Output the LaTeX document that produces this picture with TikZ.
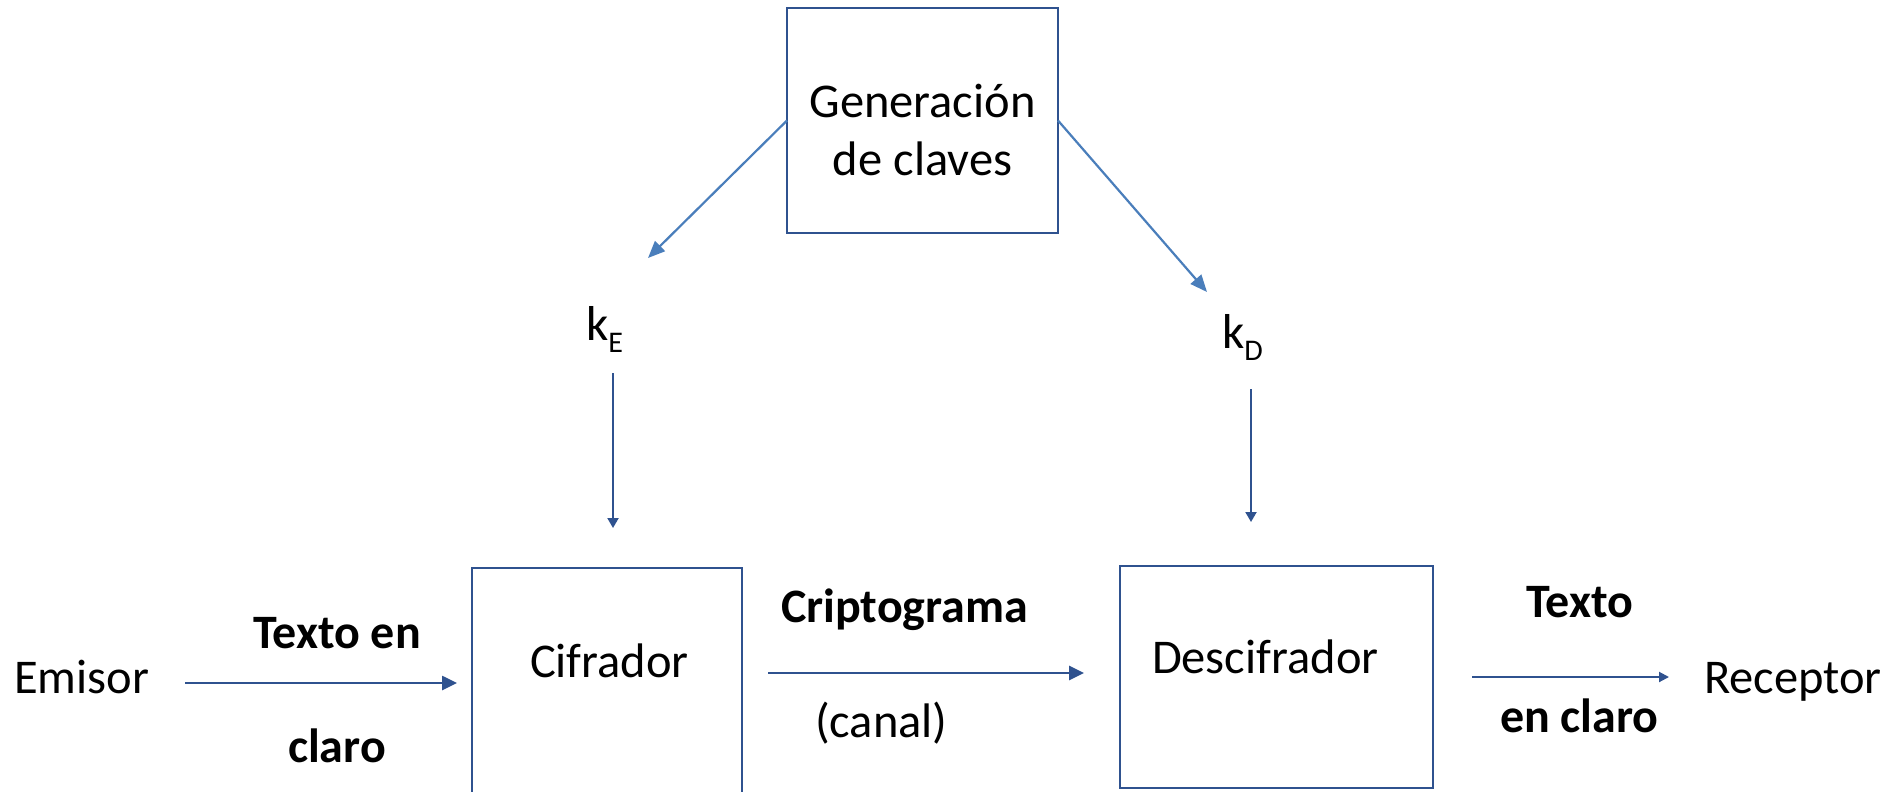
\documentclass[tikz,border=0pt]{standalone}
\usepackage{fontspec}
\setmainfont{Carlito}
\usetikzlibrary{arrows.meta}
\definecolor{boxblue}{HTML}{2F528F}
\definecolor{arrdark}{HTML}{2F528F}
\definecolor{arrlight}{HTML}{4A7EBB}
\begin{document}
\begin{tikzpicture}[x=1pt,y=-1pt,
  txt/.style={inner sep=0pt, outer sep=0pt, font=\fontsize{48.5}{58}\selectfont, anchor=base west},
  btxt/.style={txt, font=\fontsize{48}{58}\selectfont\bfseries},
  ktxt/.style={txt, font=\fontsize{49}{56}\selectfont},
  boxnode/.style={draw=boxblue, line width=2pt, inner sep=0pt, outer sep=0pt, anchor=north west},
  harrow/.style={draw=arrdark, line width=2.6pt, -{Triangle[length=15pt,width=14pt]}},
  sarrow/.style={draw=arrdark, line width=2pt, -{Triangle[length=10pt,width=10pt]}},
  varrow/.style={draw=arrdark, line width=2pt, -{Triangle[length=10pt,width=11pt]}},
  larrow/.style={draw=arrlight, line width=2.2pt, -{Triangle[length=17pt,width=14pt]}}
]
\clip (0,0) rectangle (1900,792);
\fill[white] (0,0) rectangle (1900,792);

% boxes
\node[boxnode, minimum width=271pt, minimum height=225pt] (gen) at (787,8) {};
\node[boxnode, minimum width=270pt, minimum height=260pt] (cif) at (472,568) {};
\node[boxnode, minimum width=313pt, minimum height=222pt] (des) at (1120,566) {};

% box texts
\node[txt, anchor=base] (gen1) at (922.5,117) {Generación};
\node[txt, anchor=base] (gen2) at (922.5,175) {de claves};
\node[txt] (ciftxt) at (530,677) {Cifrador};
\node[txt] (destxt) at (1152,673) {Descifrador};

% end points
\node[txt] (emisor) at (14,693) {Emisor};
\node[txt] (receptor) at (1704,693) {Receptor};

% keys
\node[ktxt] (kE) at (586,340) {k\raisebox{-12pt}{\fontsize{30}{30}\selectfont E}};
\node[ktxt] (kD) at (1222,348) {k\raisebox{-12pt}{\fontsize{30}{30}\selectfont D}};

% labels
\node[btxt] (t1a) at (253,648) {Texto en};
\node[btxt] (t1b) at (288,762) {claro};
\node[btxt] (crip) at (781,622) {Criptograma};
\node[txt] (canal) at (815,737) {(canal)};
\node[btxt] (t2a) at (1526,617) {Texto};
\node[btxt] (t2b) at (1500,732) {en claro};

% connector end points
\coordinate (e1) at (185,683);
\coordinate (e2) at (457,683);
\coordinate (c1) at (768,673);
\coordinate (c2) at (1084,673);
\coordinate (r1) at (1472,677);
\coordinate (r2) at (1669,677);
\coordinate (ke1) at (613,373);
\coordinate (ke2) at (613,528);
\coordinate (kd1) at (1251,389);
\coordinate (kd2) at (1251,522);
\coordinate (dl) at (648,258);
\coordinate (dr) at (1207,292);

% connectors
\draw[larrow] (gen.west) -- (dl);
\draw[larrow] (gen.east) -- (dr);
\draw[varrow] (ke1) -- (ke2);
\draw[varrow] (kd1) -- (kd2);
\draw[harrow] (e1) -- (e2);
\draw[harrow] (c1) -- (c2);
\draw[sarrow] (r1) -- (r2);
\end{tikzpicture}
\end{document}
